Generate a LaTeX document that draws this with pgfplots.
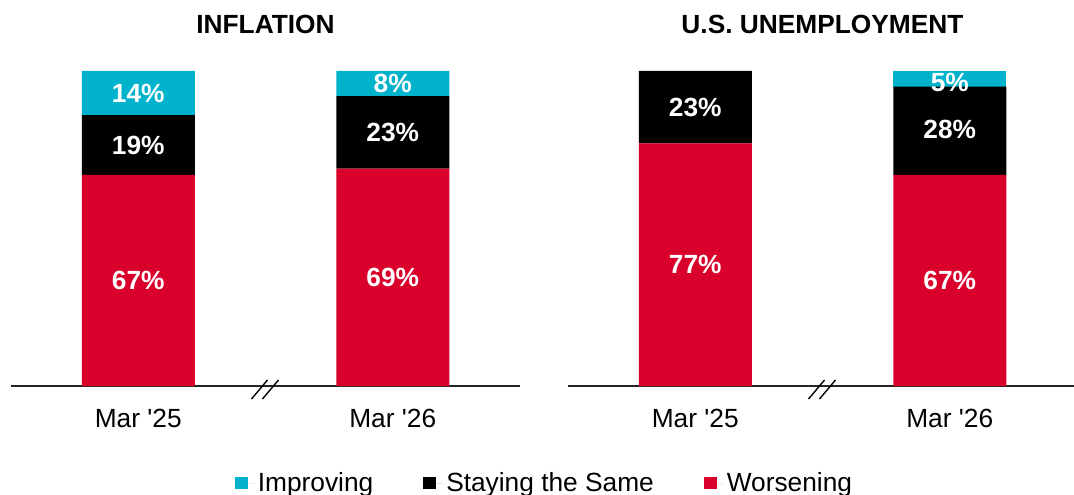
\documentclass[border=0pt]{standalone}
\usepackage{pgfplots}
\pgfplotsset{compat=1.18}
\usepackage{fontspec}
\setmainfont{Liberation Sans}
\definecolor{impr}{HTML}{00B2CB}
\definecolor{wors}{HTML}{D9002B}

\pgfplotsset{
  panel/.style={scale only axis, width=254.5bp, height=157.5bp,
    xmin=-0.5, xmax=1.5, ymin=0, ymax=100, clip=false},
  bars/.style={panel, ybar stacked, bar width=56.5bp,
    axis y line=none, axis x line=bottom,
    axis line style={-, line width=1bp, black!85},
    xtick={0,1}, xticklabels={Mar \textquotesingle25, Mar \textquotesingle26},
    major tick length=0pt,
    xticklabel style={font=\fontsize{13.2}{15}\selectfont, anchor=center, yshift=-16bp},
    title style={font=\bfseries\fontsize{13.2}{15}\selectfont, at={(0.5,1)}, anchor=center, yshift=17.5bp},
    every axis plot post/.append style={draw=none,
      legend image code/.code={\fill[##1] (0bp,-3.2bp) rectangle (6.4bp,3.2bp);
        \path (0bp,0bp) -- (9.5bp,0bp);}}},
  labels/.style={panel, axis lines=none, nodes near coords,
    point meta=explicit symbolic,
    every node near coord/.style={anchor=center, text=white,
      font=\bfseries\fontsize{13.2}{15}\selectfont}},
}

\begin{document}
\begin{tikzpicture}
\path[use as bounding box] (0,-54.5bp) rectangle (537bp,193bp);

% inflation
\begin{axis}[bars, at={(5.5bp,0)}, anchor=south west, title={INFLATION},
  reverse legend, legend columns=3,
  legend style={at={(1.05,-0.308)}, anchor=center, draw=none,
    font=\fontsize{13.2}{15}\selectfont,
    /tikz/every even column/.append style={column sep=23bp}}]
\addplot[fill=wors] coordinates {(0,67) (1,69)};
\addplot[fill=black] coordinates {(0,19) (1,23)};
\addplot[fill=impr] coordinates {(0,14) (1,8)};
\legend{Worsening, Staying the Same, Improving}
\draw[line width=0.7bp] ([xshift=-7bp,yshift=-6.5bp]axis cs:0.5,0) -- ++(8bp,9.5bp);
\draw[line width=0.7bp] ([xshift=-1.5bp,yshift=-6.5bp]axis cs:0.5,0) -- ++(8bp,9.5bp);
\end{axis}
\begin{axis}[labels, at={(5.5bp,0)}, anchor=south west]
\addplot[draw=none, mark=none] coordinates {
  (0,33.5) [67\%] (0,76.5) [19\%] (0,93) [14\%]
  (1,34.5) [69\%] (1,80.5) [23\%] (1,96) [8\%]};
\end{axis}

% unemployment
\begin{axis}[bars, at={(284bp,0)}, anchor=south west, title={U.S. UNEMPLOYMENT}]
\addplot[fill=wors] coordinates {(0,77) (1,67)};
\addplot[fill=black] coordinates {(0,23) (1,28)};
\addplot[fill=impr] coordinates {(0,0) (1,5)};
\draw[line width=0.7bp] ([xshift=-7bp,yshift=-6.5bp]axis cs:0.5,0) -- ++(8bp,9.5bp);
\draw[line width=0.7bp] ([xshift=-1.5bp,yshift=-6.5bp]axis cs:0.5,0) -- ++(8bp,9.5bp);
\end{axis}
\begin{axis}[labels, at={(284bp,0)}, anchor=south west]
\addplot[draw=none, mark=none] coordinates {
  (0,38.5) [77\%] (0,88.5) [23\%]
  (1,33.5) [67\%] (1,81.5) [28\%] (1,96.2) [5\%]};
\end{axis}
\end{tikzpicture}
\end{document}
